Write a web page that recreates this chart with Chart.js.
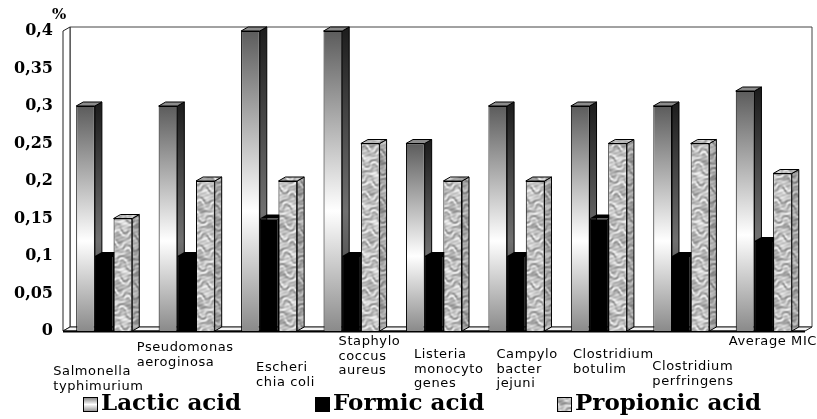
<!DOCTYPE html>
<html>
<head>
<meta charset="utf-8">
<script src="https://cdn.jsdelivr.net/npm/chart.js@4.4.1/dist/chart.umd.min.js"></script>
<style>
  html, body { margin: 0; padding: 0; background: #fff; }
  #wrap { width: 817px; height: 419px; }
</style>
</head>
<body>
<div id="wrap"><canvas id="chart"></canvas></div>
<script>
// ─── Data ─────────────────────────────────────────────────────────────────────
const categories = [
    ['Salmonella', 'typhimurium'],
    ['Pseudomonas', 'aeroginosa'],
    ['Escheri', 'chia coli'],
    ['Staphylo', 'coccus', 'aureus'],
    ['Listeria', 'monocyto', 'genes'],
    ['Campylo', 'bacter', 'jejuni'],
    ['Clostridium', 'botulim'],
    ['Clostridium', 'perfringens'],
    ['Average MIC'],
];
const seriesNames = ['Lactic acid', 'Formic acid', 'Propionic acid'];
const lactic    = [0.30, 0.30, 0.40, 0.40, 0.25, 0.30, 0.30, 0.30, 0.32];
const formic    = [0.10, 0.10, 0.15, 0.10, 0.10, 0.10, 0.15, 0.10, 0.12];
const propionic = [0.15, 0.20, 0.20, 0.25, 0.20, 0.20, 0.25, 0.25, 0.21];
const yUnit = '%';

// ─── Layout (staggered category labels, legend spots) ────────────────────────
const labelDx = [-51, -50, -13, -13, -20, -20, -26, -29, -35];
const labelDy = [41, 17, 37, 11, 24, 24, 24, 36, 11];
const legendX = [83, 315, 557];
const DX = 7, DY = 4;   // 3D depth offset

// ─── Fills ────────────────────────────────────────────────────────────────────
// grey "marble" texture, elongated horizontal streaks
function makeMarble() {
    const w = 36, h = 48;
    const c = document.createElement('canvas');
    c.width = w; c.height = h;
    const g = c.getContext('2d');
    const img = g.createImageData(w, h);
    const fx = 2 * Math.PI / w, fy = 2 * Math.PI / h;
    for (let y = 0; y < h; y++) {
        for (let x = 0; x < w; x++) {
            const warp = 2.2 * Math.sin(2 * fx * x + fy * y) + 1.2 * Math.sin(3 * fx * x - 2 * fy * y);
            const v = Math.sin(5 * fy * y + warp)
                + 0.6 * Math.sin(9 * fy * y - fx * x + 0.8 * warp)
                + 0.35 * Math.sin(4 * fx * x + 13 * fy * y);
            const k = Math.max(110, Math.min(238, Math.round(192 + v * 26)));
            const p = (y * w + x) * 4;
            img.data[p] = k; img.data[p + 1] = k; img.data[p + 2] = k; img.data[p + 3] = 255;
        }
    }
    g.putImageData(img, 0, 0);
    return c;
}
const marbleCanvas = makeMarble();
let marble = '#bbb';

function lacticFill(ctx, top, bottom) {
    const gr = ctx.createLinearGradient(0, top, 0, bottom);
    gr.addColorStop(0, '#5c5c5c');
    gr.addColorStop(0.6, '#fff');
    gr.addColorStop(1, '#8a8a8a');
    return gr;
}

function lacticBg(c) {
    const chart = c.chart;
    if (!chart.chartArea || !chart.scales.y) return '#aaa';
    const ys = chart.scales.y;
    return lacticFill(chart.ctx, ys.getPixelForValue(c.raw), ys.getPixelForValue(0));
}

function poly(ctx, pts, fill, stroke) {
    ctx.beginPath();
    ctx.moveTo(pts[0][0], pts[0][1]);
    for (let i = 1; i < pts.length; i++) ctx.lineTo(pts[i][0], pts[i][1]);
    ctx.closePath();
    if (fill) { ctx.fillStyle = fill; ctx.fill(); }
    if (stroke) { ctx.strokeStyle = stroke; ctx.lineWidth = 1; ctx.stroke(); }
}

// ─── 3D walls + bars ─────────────────────────────────────────────────────────
const threeD = {
    id: 'threeD',
    beforeDatasetsDraw(chart) {
        const { ctx, chartArea: a } = chart;
        ctx.save();
        // back wall
        poly(ctx, [[a.left + DX, a.top - DY], [a.right + DX, a.top - DY],
                   [a.right + DX, a.bottom - DY], [a.left + DX, a.bottom - DY]], '#fff', '#444');
        // left wall
        poly(ctx, [[a.left, a.top], [a.left + DX, a.top - DY],
                   [a.left + DX, a.bottom - DY], [a.left, a.bottom]], '#fff', '#222');
        // floor
        poly(ctx, [[a.left, a.bottom], [a.right, a.bottom],
                   [a.right + DX, a.bottom - DY], [a.left + DX, a.bottom - DY]], '#f4f4f4', '#222');
        ctx.beginPath();
        ctx.moveTo(a.left, a.bottom + 0.5); ctx.lineTo(a.right, a.bottom + 0.5);
        ctx.lineWidth = 2; ctx.strokeStyle = '#000'; ctx.stroke();

        // draw group by group so each bar's front hides the previous bar's side
        const metas = [0, 1, 2].map(d => chart.getDatasetMeta(d));
        for (let i = 0; i < categories.length; i++) {
            metas.forEach((meta, d) => {
                const bar = meta.data[i];
                const { x, y, base, width } = bar.getProps(['x', 'y', 'base', 'width'], true);
                const l = x - width / 2, r = x + width / 2;
                bar.draw(ctx);
                let side, top;
                if (d === 0) {
                    side = ctx.createLinearGradient(0, y, 0, base);
                    side.addColorStop(0, '#1e1e1e'); side.addColorStop(0.6, '#707070'); side.addColorStop(1, '#333');
                    top = '#8c8c8c';
                } else if (d === 1) {
                    side = '#000'; top = '#000';
                } else {
                    side = marble; top = marble;
                }
                const sidePts = [[r, y], [r + DX, y - DY], [r + DX, base - DY], [r, base]];
                poly(ctx, sidePts, side, '#000');
                if (d === 2) poly(ctx, sidePts, 'rgba(0,0,0,0.15)', null);
                poly(ctx, [[l, y], [r, y], [r + DX, y - DY], [l + DX, y - DY]], top, d === 1 ? null : '#000');
            });
        }
        ctx.restore();
        return false;
    },
    afterDraw(chart) {
        const { ctx, chartArea: a, scales: { x: xs } } = chart;
        ctx.save();
        ctx.fillStyle = '#000';
        ctx.font = 'bold 15px "DejaVu Serif"';
        ctx.textAlign = 'left'; ctx.textBaseline = 'middle';
        ctx.fillText(yUnit, 52, 15);
        // category labels
        ctx.font = '13px "DejaVu Sans"';
        ctx.letterSpacing = '0.6px';
        categories.forEach((lines, i) => {
            const x0 = xs.getPixelForValue(i) + labelDx[i];
            lines.forEach((t, k) => ctx.fillText(t, x0, a.bottom + labelDy[i] + k * 14.5));
        });
        ctx.letterSpacing = '0px';
        // legend
        ctx.font = 'bold 23px "DejaVu Serif"';
        chart.data.datasets.forEach((ds, d) => {
            const bx = legendX[d], by = 397;
            let fill;
            if (d === 0) {
                fill = ctx.createLinearGradient(0, by, 0, by + 15);
                fill.addColorStop(0, '#777'); fill.addColorStop(0.5, '#fff'); fill.addColorStop(1, '#888');
            } else if (d === 1) fill = '#000';
            else fill = marble;
            ctx.fillStyle = fill;
            ctx.fillRect(bx, by, 15, 15);
            ctx.strokeStyle = '#000'; ctx.lineWidth = 1;
            ctx.strokeRect(bx + 0.5, by + 0.5, 14, 14);
            ctx.fillStyle = '#000';
            ctx.fillText(ds.label, bx + 18, by + 7);
        });
        ctx.restore();
    }
};

// ─── Chart ────────────────────────────────────────────────────────────────────
const canvas = document.getElementById('chart');
const ctx = canvas.getContext('2d');
marble = ctx.createPattern(marbleCanvas, 'repeat');

new Chart(ctx, {
    type: 'bar',
    data: {
        labels: categories.map(c => c.join(' ')),
        datasets: [
            { label: seriesNames[0], data: lactic, backgroundColor: lacticBg },
            { label: seriesNames[1], data: formic, backgroundColor: '#000' },
            { label: seriesNames[2], data: propionic, backgroundColor: marble },
        ]
    },
    options: {
        responsive: true,
        maintainAspectRatio: false,
        animation: false,
        layout: { padding: { top: 31, right: 12, bottom: 0, left: 0 } },
        datasets: {
            bar: {
                categoryPercentage: 0.68,
                barPercentage: 1.0,
                borderColor: '#000',
                borderWidth: 1,
            }
        },
        scales: {
            x: {
                grid: { display: false, drawTicks: false },
                border: { display: false },
                ticks: { display: false },
                afterFit: s => { s.height = 88; },
            },
            y: {
                min: 0,
                max: 0.4,
                grid: { display: false, drawTicks: false },
                border: { display: false },
                ticks: {
                    stepSize: 0.05,
                    padding: 10,
                    color: '#000',
                    font: { family: '"DejaVu Serif"', weight: 'bold', size: 16 },
                    callback: v => String(+v.toFixed(2)).replace('.', ','),
                },
                afterFit: s => { s.width = 63; },
            }
        },
        plugins: {
            legend: { display: false },
            tooltip: { enabled: false },
        }
    },
    plugins: [threeD]
});
</script>
</body>
</html>
